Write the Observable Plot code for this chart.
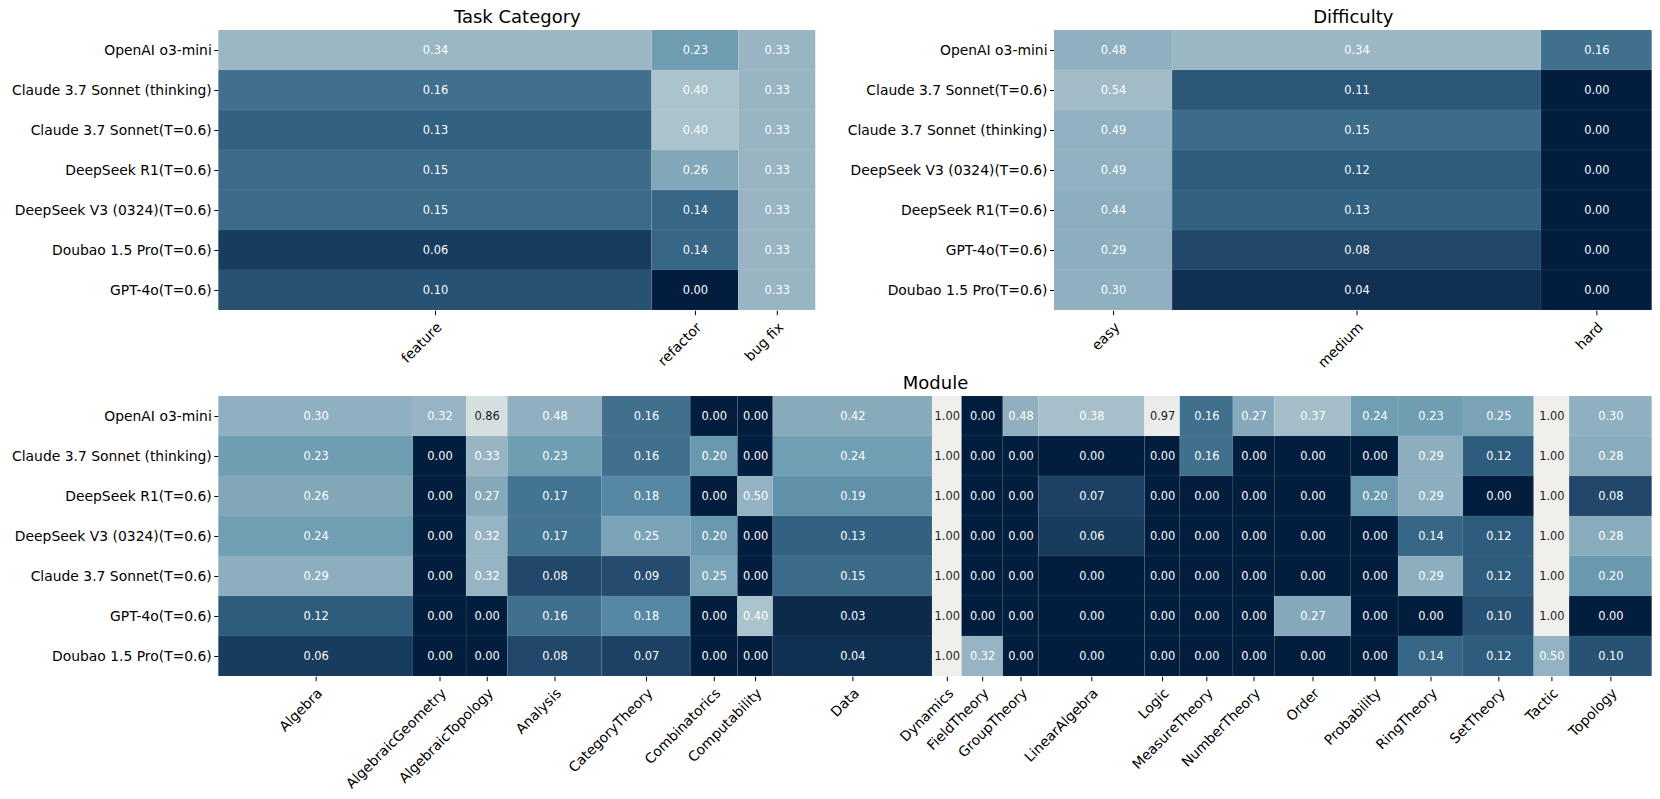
<!DOCTYPE html>
<html><head><meta charset="utf-8">
<script src="https://cdn.jsdelivr.net/npm/d3@7"></script>
<script src="https://cdn.jsdelivr.net/npm/@observablehq/plot@0.6"></script>
<style>
body{margin:0;background:#fff;}
#wrap{position:relative;width:1660px;height:799px;overflow:hidden;font-family:"DejaVu Sans",sans-serif;}
#wrap > div{position:absolute;}
svg{overflow:visible;}
</style></head><body>
<div id="wrap"><div id="p1"></div><div id="p2"></div><div id="p3"></div></div>
<script>
// ---------- Task Category ----------
const taskRows = ["OpenAI o3-mini","Claude 3.7 Sonnet (thinking)","Claude 3.7 Sonnet(T=0.6)","DeepSeek R1(T=0.6)","DeepSeek V3 (0324)(T=0.6)","Doubao 1.5 Pro(T=0.6)","GPT-4o(T=0.6)"];
const taskCols = ["feature","refactor","bug fix"];
const taskCounts = [45, 9, 8];
const taskFeature  = [0.34,0.16,0.13,0.15,0.15,0.06,0.10];
const taskRefactor = [0.23,0.40,0.40,0.26,0.14,0.14,0.00];
const taskBugFix   = [0.33,0.33,0.33,0.33,0.33,0.33,0.33];

// ---------- Difficulty ----------
const diffRows = ["OpenAI o3-mini","Claude 3.7 Sonnet(T=0.6)","Claude 3.7 Sonnet (thinking)","DeepSeek V3 (0324)(T=0.6)","DeepSeek R1(T=0.6)","GPT-4o(T=0.6)","Doubao 1.5 Pro(T=0.6)"];
const diffCols = ["easy","medium","hard"];
const diffCounts = [16, 50, 15];
const diffEasy   = [0.48,0.54,0.49,0.49,0.44,0.29,0.30];
const diffMedium = [0.34,0.11,0.15,0.12,0.13,0.08,0.04];
const diffHard   = [0.16,0.00,0.00,0.00,0.00,0.00,0.00];

// ---------- Module ----------
const modRows = ["OpenAI o3-mini","Claude 3.7 Sonnet (thinking)","DeepSeek R1(T=0.6)","DeepSeek V3 (0324)(T=0.6)","Claude 3.7 Sonnet(T=0.6)","GPT-4o(T=0.6)","Doubao 1.5 Pro(T=0.6)"];
const modCols = ["Algebra","AlgebraicGeometry","AlgebraicTopology","Analysis","CategoryTheory","Combinatorics","Computability","Data","Dynamics","FieldTheory","GroupTheory","LinearAlgebra","Logic","MeasureTheory","NumberTheory","Order","Probability","RingTheory","SetTheory","Tactic","Topology"];
const modCounts = [33,9,7,16,15,8,6,27,5,7,6,18,6,9,7,13,8,11,12,6,14];
const modO3mini     = [0.30,0.32,0.86,0.48,0.16,0.00,0.00,0.42,1.00,0.00,0.48,0.38,0.97,0.16,0.27,0.37,0.24,0.23,0.25,1.00,0.30];
const modClaudeThk  = [0.23,0.00,0.33,0.23,0.16,0.20,0.00,0.24,1.00,0.00,0.00,0.00,0.00,0.16,0.00,0.00,0.00,0.29,0.12,1.00,0.28];
const modDeepSeekR1 = [0.26,0.00,0.27,0.17,0.18,0.00,0.50,0.19,1.00,0.00,0.00,0.07,0.00,0.00,0.00,0.00,0.20,0.29,0.00,1.00,0.08];
const modDeepSeekV3 = [0.24,0.00,0.32,0.17,0.25,0.20,0.00,0.13,1.00,0.00,0.00,0.06,0.00,0.00,0.00,0.00,0.00,0.14,0.12,1.00,0.28];
const modClaude06   = [0.29,0.00,0.32,0.08,0.09,0.25,0.00,0.15,1.00,0.00,0.00,0.00,0.00,0.00,0.00,0.00,0.00,0.29,0.12,1.00,0.20];
const modGPT4o      = [0.12,0.00,0.00,0.16,0.18,0.00,0.40,0.03,1.00,0.00,0.00,0.00,0.00,0.00,0.00,0.27,0.00,0.00,0.10,1.00,0.00];
const modDoubao     = [0.06,0.00,0.00,0.08,0.07,0.00,0.00,0.04,1.00,0.32,0.00,0.00,0.00,0.00,0.00,0.00,0.00,0.14,0.12,0.50,0.10];

// colour map anchors (value -> colour)
const colorStops = [0, 0.04, 0.08, 0.12, 0.16, 0.17, 0.18, 0.20, 0.24, 0.26, 0.30, 0.34, 0.40, 0.41, 0.49, 0.54, 0.86, 1.0];
const colorRange = ["#021d3d","#0f3050","#21476a","#2e5c7c","#41708f","#447493","#5688a3","#6a99af","#709eb3","#82a7b9","#8fb0c1","#9cb7c4","#abc3cd","#87aabb","#91b1c1","#a1bbc7","#d6dfe0","#f0efeb"];

function heatmap({rows, cols, counts, byRow, title, width, height, mL, mR, mT, mB}) {
  const cum = [0];
  counts.forEach(c => cum.push(cum[cum.length - 1] + c));
  const total = cum[cum.length - 1];
  const centers = cols.map((c, j) => (cum[j] + cum[j + 1]) / 2);
  const ticks = centers.map((c, j) => ({c, label: cols[j]}));
  const cells = [];
  rows.forEach((r, i) => cols.forEach((c, j) => {
    cells.push({row: r, col: c, x1: cum[j], x2: cum[j + 1], xc: centers[j], v: byRow[i][j]});
  }));
  return Plot.plot({
    width, height, marginLeft: mL, marginRight: mR, marginTop: mT, marginBottom: mB,
    style: {fontFamily: "DejaVu Sans, sans-serif", color: "#000", background: "transparent", overflow: "visible"},
    x: {domain: [0, total], axis: null, label: null},
    y: {domain: rows, padding: 0, axis: null, label: null},
    color: {type: "linear", domain: colorStops, range: colorRange, interpolate: "rgb"},
    marks: [
      Plot.barX(cells, {x1: "x1", x2: "x2", y: "row", fill: "v", stroke: "#ffffff", strokeOpacity: 0.06, strokeWidth: 1}),
      Plot.text(cells.filter(d => d.v <= 0.6), {x: "xc", y: "row", text: d => d.v.toFixed(2), fill: "white", fontSize: 11.4}),
      Plot.text(cells.filter(d => d.v > 0.6), {x: "xc", y: "row", text: d => d.v.toFixed(2), fill: "#1a1a1a", fontSize: 11.4}),
      Plot.axisY({tickSize: 4, tickPadding: 3, fontSize: 13.9, label: null}),
      Plot.axisX(centers, {tickSize: 4.5, tickFormat: () => "", label: null}),
      Plot.text(ticks, {x: "c", frameAnchor: "bottom", text: "label", rotate: -45, textAnchor: "end", lineAnchor: "top", dy: 10, dx: 0, fontSize: 13.9, fill: "#000"}),
      Plot.text([title], {frameAnchor: "top", text: d => d, dy: -6.6, lineAnchor: "bottom", fontSize: 18, fill: "#000"})
    ]
  });
}

const transpose = (cols) => cols[0].map((_, i) => cols.map(c => c[i]));

const p1 = heatmap({rows: taskRows, cols: taskCols, counts: taskCounts,
  byRow: transpose([taskFeature, taskRefactor, taskBugFix]), title: "Task Category",
  width: 830, height: 400, mL: 218.3, mR: 14.7, mT: 29.3, mB: 89.3});
const p2 = heatmap({rows: diffRows, cols: diffCols, counts: diffCounts,
  byRow: transpose([diffEasy, diffMedium, diffHard]), title: "Difficulty",
  width: 830, height: 400, mL: 224, mR: 8.3, mT: 29.3, mB: 89.3});
const p3 = heatmap({rows: modRows, cols: modCols, counts: modCounts,
  byRow: [modO3mini, modClaudeThk, modDeepSeekR1, modDeepSeekV3, modClaude06, modGPT4o, modDoubao], title: "Module",
  width: 1660, height: 459, mL: 218.3, mR: 8.3, mT: 55, mB: 122.3});

const d1 = document.getElementById("p1"); d1.style.left = "0px"; d1.style.top = "0px"; d1.appendChild(p1);
const d2 = document.getElementById("p2"); d2.style.left = "830px"; d2.style.top = "0px"; d2.appendChild(p2);
const d3e = document.getElementById("p3"); d3e.style.left = "0px"; d3e.style.top = "340px"; d3e.appendChild(p3);
</script>
</body></html>
